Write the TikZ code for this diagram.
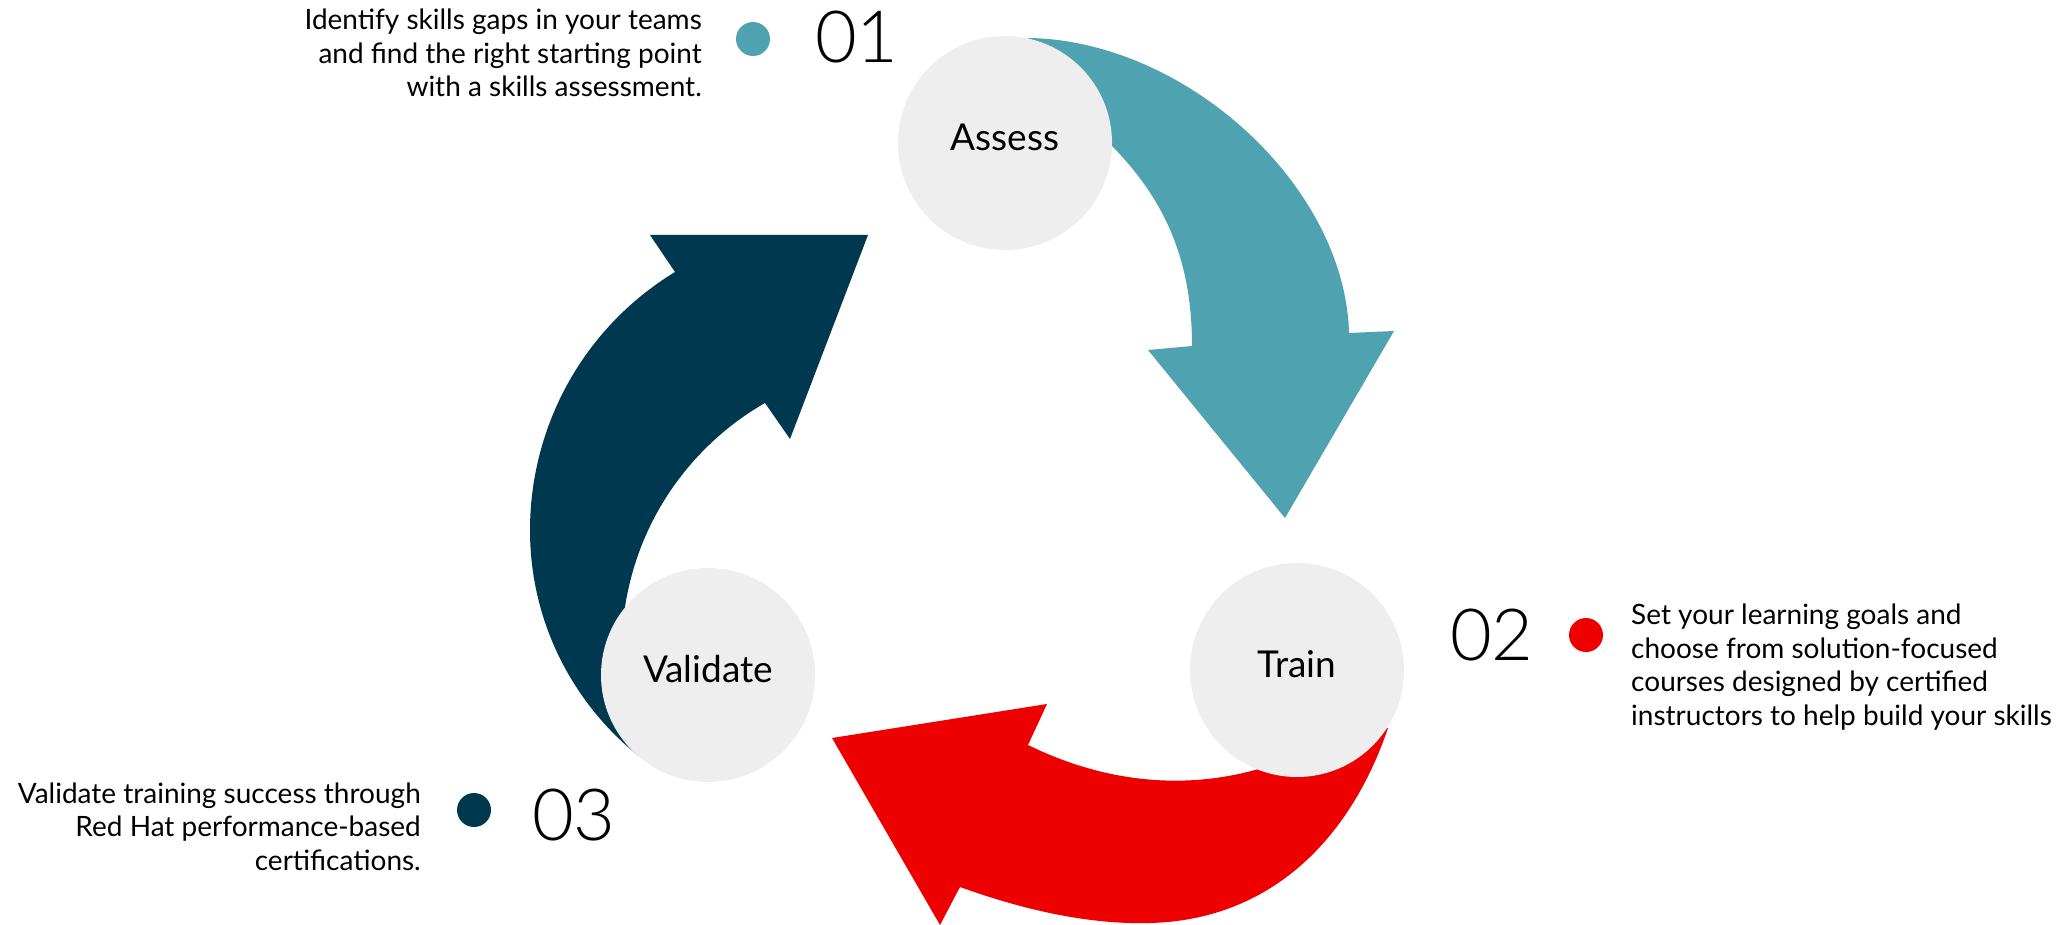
\documentclass[tikz,border=0pt]{standalone}
\usepackage{fontspec}
\setmainfont{Lato}
\IfFontExistsTF{Lato Light}{\newfontfamily\numfont{Lato Light}}{\newfontfamily\numfont{Lato}}

\definecolor{assessteal}{RGB}{79,163,177}
\definecolor{validnavy}{RGB}{0,57,79}
\definecolor{trainred}{RGB}{238,0,0}
\definecolor{stagegray}{RGB}{238,238,238}

% stage label sits a little above the circle centre
\newcommand\stagelabel[1]{\raisebox{6pt}[\height][\depth]{#1}}

\tikzset{
  stage/.style={circle, fill=stagegray, minimum size=214pt, inner sep=0pt,
    font=\fontsize{37}{40}\selectfont},
  stepnum/.style={font=\numfont\fontsize{72}{72}\selectfont, inner sep=0pt, anchor=base west},
  bullet/.style={circle, minimum size=34pt, inner sep=0pt},
  blurb/.style={font=\fontsize{28}{33.5}\selectfont, inner sep=0pt},
}

\begin{document}
\begin{tikzpicture}[x=1pt,y=-1pt]
\path [fill=white, use as bounding box] (0,0) rectangle (2066,925);

% the three curved arrows, under the circles
\fill [assessteal] (1028,38) .. controls (1185,40) and (1345,185) .. (1349,333)
  -- (1394,331) -- (1285,518) -- (1148,350) -- (1192,346)
  .. controls (1192,260) and (1165,200) .. (1112,146) -- cycle;
\fill [trainred] (1388,728) .. controls (1350,840) and (1270,920) .. (1150,923)
  .. controls (1080,925) and (1010,905) .. (960,887)
  -- (940,925) -- (832,738) -- (1047,704) -- (1028,745)
  .. controls (1120,790) and (1200,785) .. (1255,770) -- cycle;
\fill [validnavy] (640,757) .. controls (580,710) and (530,630) .. (530,530)
  .. controls (530,430) and (580,330) .. (675,272)
  -- (650,235) -- (868,235) -- (790,439) -- (765,403)
  .. controls (700,440) and (640,510) .. (625,607) -- cycle;

% stages
\node [stage] (assess) at (1005,143) {\stagelabel{Assess}};
\node [stage] (train) at (1297,670) {\stagelabel{Train}};
\node [stage] (validate) at (708,675) {\stagelabel{Validate}};

% step 01 (base = last line)
\node [bullet, fill=assessteal] (assess-dot) at (753,39) {};
\node [stepnum] (assess-num) at (815,63) {01};
\node [blurb, anchor=base east, align=right] (assess-text) at (702,97)
  {Identify skills gaps in your teams\\and find the right starting point\\with a skills assessment.};

% step 02
\node [bullet, fill=trainred] (train-dot) at (1586,635) {};
\node [stepnum] (train-num) at (1450,660) {02};
\node [blurb, anchor=base west, align=left] (train-text) at (1631,725)
  {Set your learning goals and\\choose from solution-focused\\courses designed by certified\\instructors to help build your skills};

% step 03
\node [bullet, fill=validnavy] (validate-dot) at (474,810) {};
\node [stepnum] (validate-num) at (532,840) {03};
\node [blurb, anchor=base east, align=right] (validate-text) at (421,870)
  {Validate training success through\\Red Hat performance-based\\certifications.};
\end{tikzpicture}
\end{document}
